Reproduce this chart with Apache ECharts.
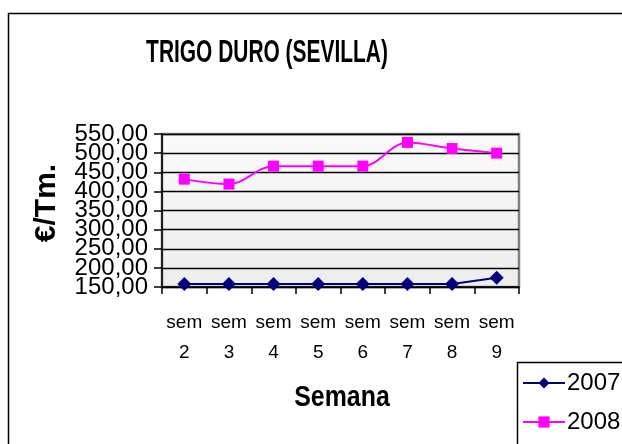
<!DOCTYPE html>
<html>
<head>
<meta charset="utf-8">
<style>
    html,body{margin:0;padding:0;background:#fff;}
    #main{width:622px;height:444px;}
</style>
<script src="https://cdn.jsdelivr.net/npm/echarts@6/dist/echarts.min.js"></script>
</head>
<body>
<div id="main"></div>
<script>
    // datos
    var semanas = ['sem\n2', 'sem\n3', 'sem\n4', 'sem\n5', 'sem\n6', 'sem\n7', 'sem\n8', 'sem\n9'];
    var serie2007 = [158, 158, 158, 158, 158, 158, 158, 174];
    var serie2008 = [432, 419, 466, 466, 466, 528, 512, 500];
    var nombres = ['2007', '2008'];
    var yMin = 150, yMax = 550, yPaso = 50;

    var fuente = "'Liberation Sans', Arial, sans-serif";

    var myChart = echarts.init(document.getElementById('main'));

    // texto "estrecho" como en el original (Excel comprime los titulos)
    function texto(t, x, y, size, sx, rot) {
        return {
            type: 'text',
            x: x,
            y: y,
            scaleX: sx,
            rotation: rot || 0,
            z: 10,
            style: {
                text: t,
                fontFamily: fuente,
                fontSize: size,
                fontWeight: 'bold',
                fill: '#000',
                align: 'center',
                verticalAlign: 'middle',
                textAlign: 'center',
                textVerticalAlign: 'middle'
            }
        };
    }

    function etiqueta(v) {
        return v.toFixed(2).replace('.', ',');
    }

    // las etiquetas se solapan en el original; se reparten en dos ejes
    // para que echarts no oculte ninguna
    function ejeY(par, visible) {
        return {
            type: 'value',
            min: yMin,
            max: yMax,
            interval: yPaso,
            position: 'left',
            axisLine: {show: visible, lineStyle: {color: '#000', width: 1.5}},
            axisTick: {show: visible, inside: false, length: 8, lineStyle: {color: '#000', width: 1.5}},
            axisLabel: {
                margin: 14,
                showMinLabel: true,
                showMaxLabel: true,
                fontFamily: fuente,
                fontSize: 24,
                color: '#000',
                formatter: function (v) {
                    return (Math.round((v - yMin) / yPaso) % 2 === par) ? etiqueta(v) : '';
                }
            },
            splitLine: {show: visible, lineStyle: {color: '#000', width: 1.3}}
        };
    }

    var option = {
        backgroundColor: '#fff',
        animation: false,
        graphic: [
            {
                type: 'rect',
                shape: {x: 8.5, y: 13.5, width: 700, height: 500},
                style: {fill: 'none', stroke: '#000', lineWidth: 1.5},
                z: 0
            },
            {
                type: 'rect',
                shape: {x: 517.5, y: 362.5, width: 200, height: 200},
                style: {fill: '#fff', stroke: '#000', lineWidth: 1.5},
                z: 1
            },
            texto('TRIGO DURO (SEVILLA)', 267, 53, 31, 0.675),
            texto('Semana', 342, 398, 30, 0.83),
            texto('€/Tm.', 47, 203, 30, 1, Math.PI / 2)
        ],
        legend: {
            orient: 'vertical',
            left: 522,
            top: 371,
            padding: 0,
            itemWidth: 42,
            itemHeight: 14,
            itemGap: 15,
            z: 5,
            data: nombres,
            textStyle: {
                fontFamily: fuente,
                fontSize: 24,
                lineHeight: 24,
                color: '#000',
                padding: [0, 0, 0, -3]
            }
        },
        grid: {
            show: true,
            left: 162,
            top: 134,
            right: 103,
            bottom: 157,
            borderColor: '#808080',
            borderWidth: 2.5,
            backgroundColor: new echarts.graphic.LinearGradient(0, 0, 0, 1, [
                {offset: 0, color: '#fafafa'},
                {offset: 1, color: '#ededed'}
            ])
        },
        xAxis: {
            type: 'category',
            data: semanas,
            boundaryGap: true,
            axisLine: {lineStyle: {color: '#000', width: 1.5}},
            axisTick: {show: true, inside: false, length: 7, lineStyle: {color: '#000', width: 1.5}},
            axisLabel: {
                interval: 0,
                margin: 21,
                fontFamily: fuente,
                fontSize: 19,
                lineHeight: 30,
                color: '#000'
            },
            splitLine: {show: false}
        },
        yAxis: [ejeY(0, true), ejeY(1, false)],
        series: [
            {
                name: nombres[0],
                type: 'line',
                data: serie2007,
                symbol: 'diamond',
                symbolSize: 14,
                lineStyle: {color: '#000080', width: 2},
                itemStyle: {color: '#000080'},
                z: 3
            },
            {
                name: nombres[1],
                type: 'line',
                data: serie2008,
                smooth: 0.35,
                symbol: 'rect',
                symbolSize: 11,
                lineStyle: {color: '#ff00ff', width: 2},
                itemStyle: {color: '#ff00ff'},
                z: 3
            }
        ]
    };

    myChart.setOption(option);
</script>
</body>
</html>
